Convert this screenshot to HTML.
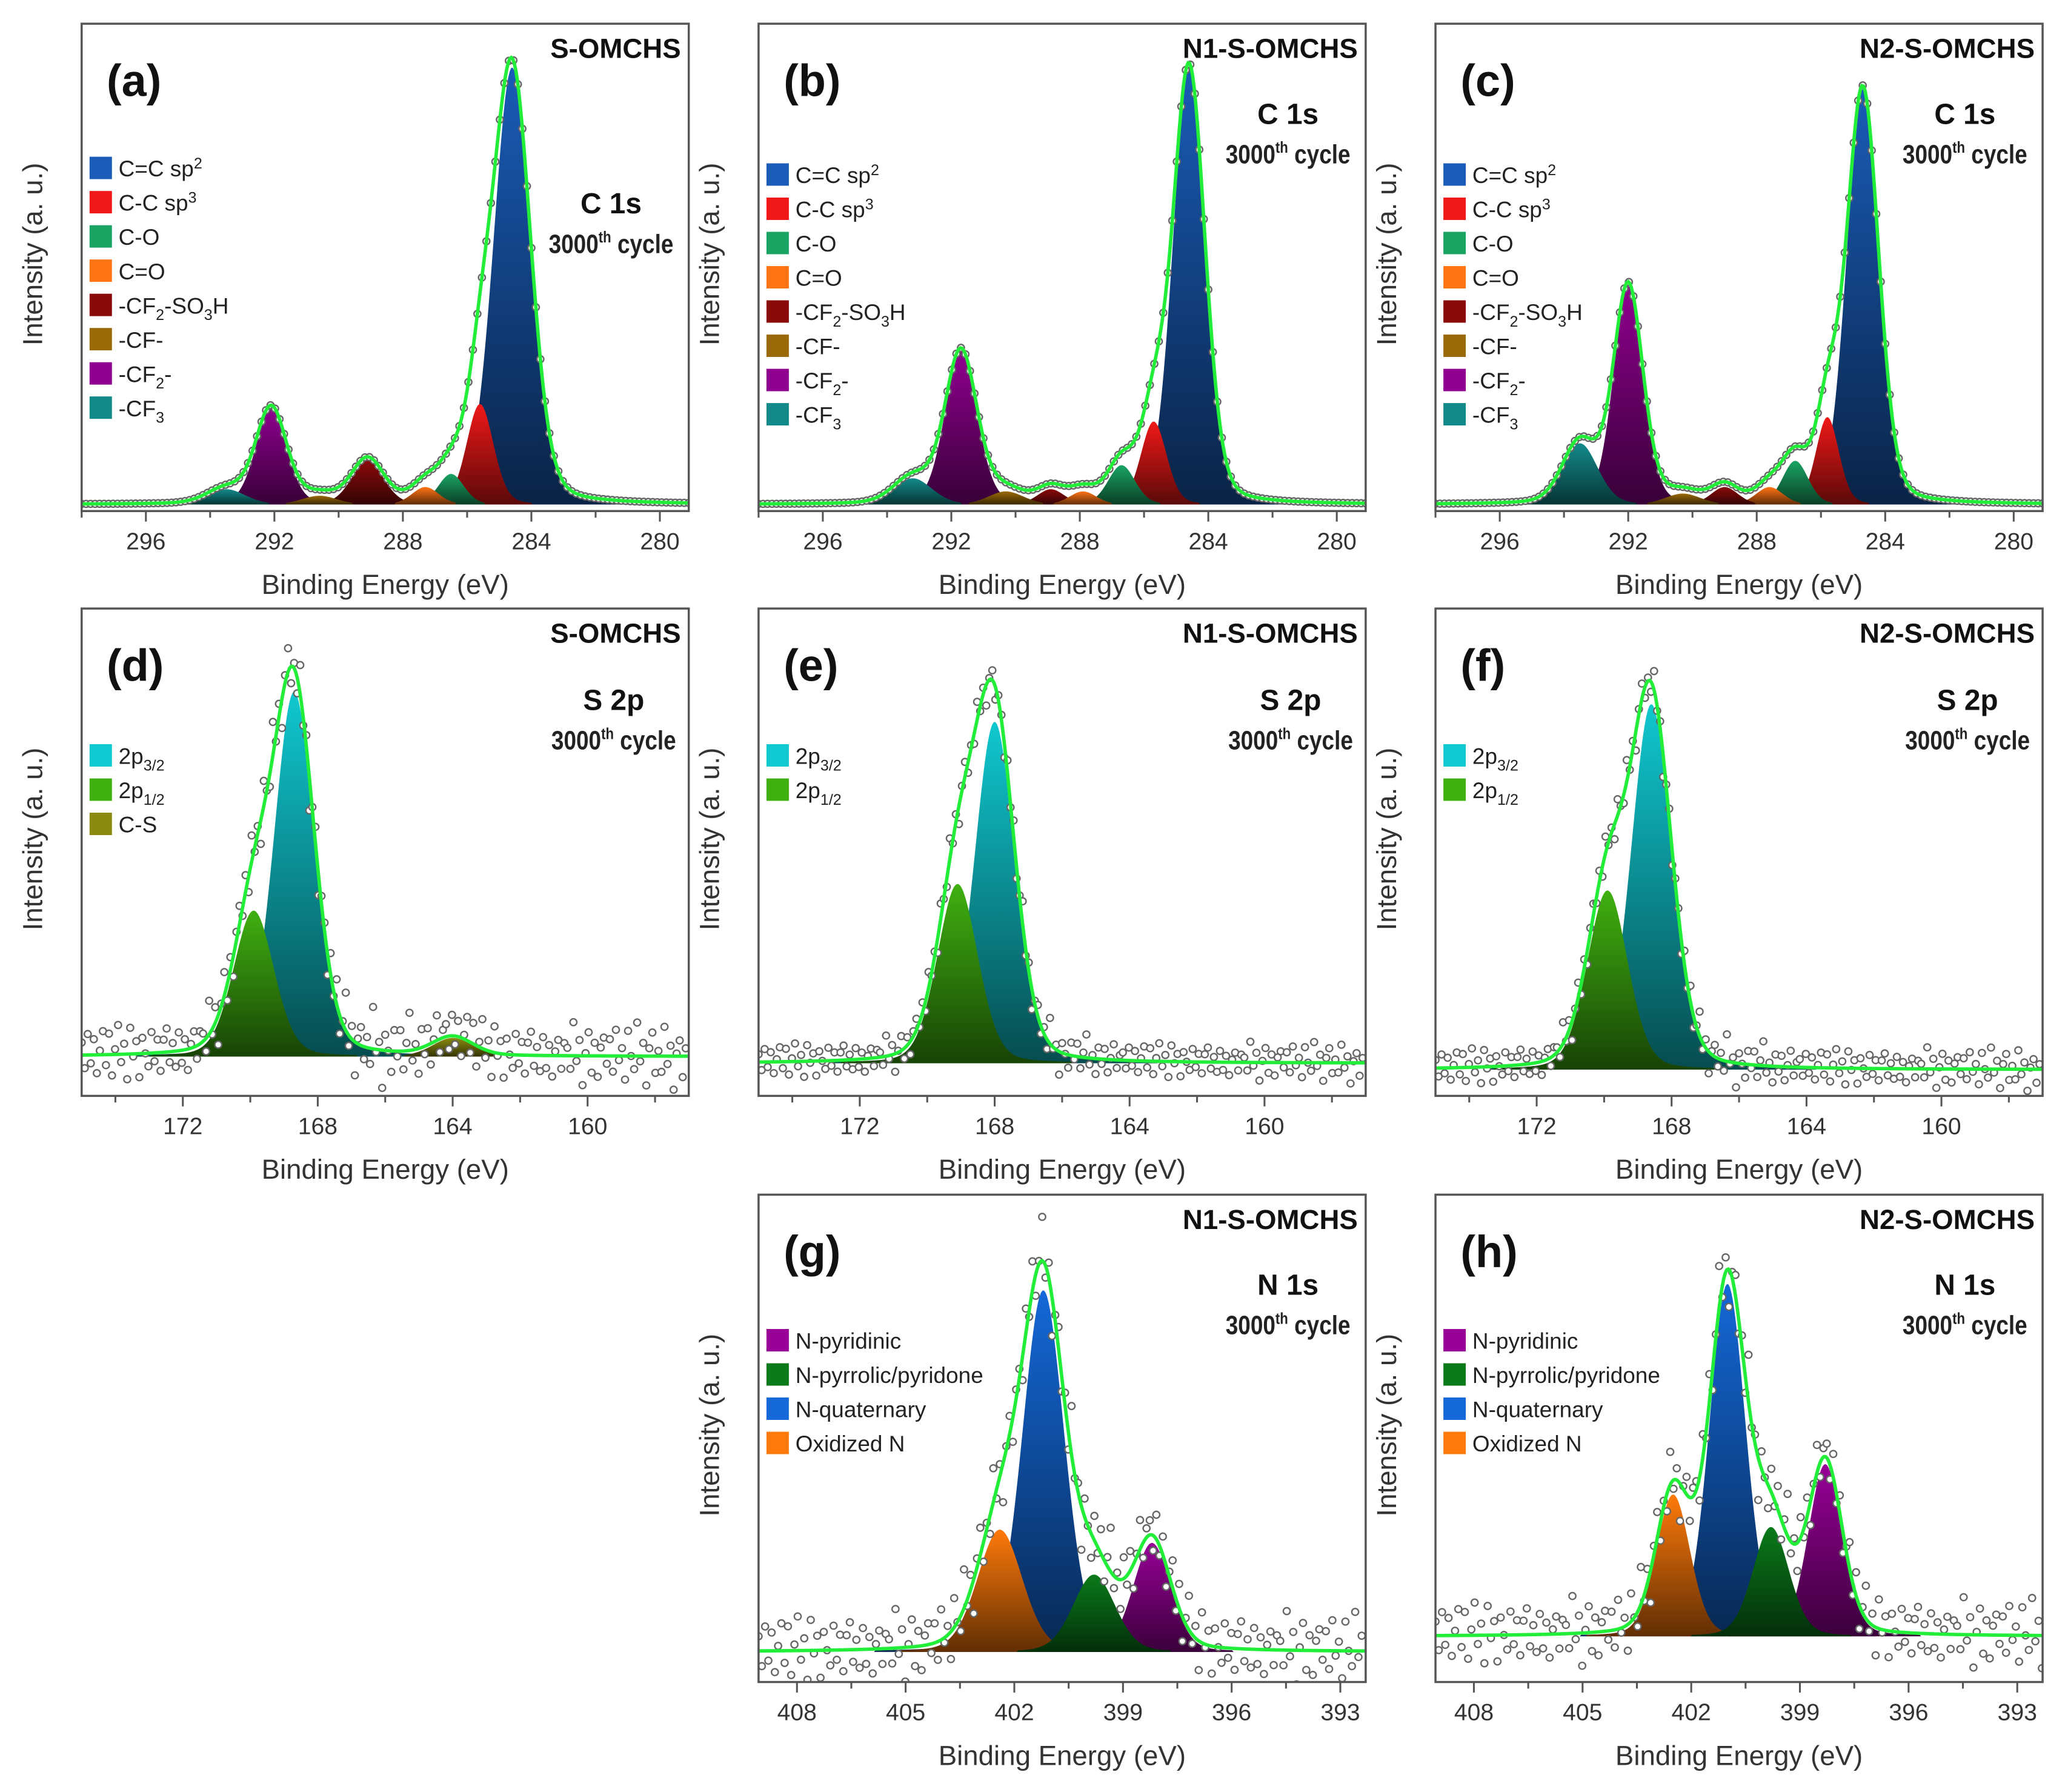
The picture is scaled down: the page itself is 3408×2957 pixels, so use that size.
<!DOCTYPE html>
<html><head><meta charset="utf-8">
<style>
html,body{margin:0;padding:0;background:#fff;}
svg{display:block;}
text{font-family:"Liberation Sans",sans-serif;}
</style></head>
<body>
<svg id="fig" xmlns="http://www.w3.org/2000/svg" width="3408" height="2957" viewBox="0 0 1568 1360.5" preserveAspectRatio="none">
<defs id="defs"></defs>
</svg>
<script>
// ---------- DATA ----------
const c1sLabels = ["C=C sp2","C-C sp3","C-O","C=O","-CF2-SO3H","-CF-","-CF2-","-CF3"];
const c1sColors = ["#1a5cb8","#f01818","#1aa464","#ff7414","#8a0a0a","#9a6a08","#900090","#138a8a"];
const c1sCenters_a = [284.6,285.6,286.5,287.3,289.1,290.6,292.1,293.5];
const c1sHeights_a = [1.00,0.23,0.07,0.04,0.10,0.02,0.22,0.035];
const c1sSigmas_a  = [0.58,0.42,0.4,0.42,0.5,0.55,0.48,0.6];
const c1sCenters_b = [284.6,285.7,286.7,287.9,288.9,290.3,291.7,293.2];
const c1sHeights_b = [1.00,0.19,0.09,0.03,0.035,0.03,0.35,0.06];
const c1sSigmas_b  = [0.5,0.4,0.42,0.42,0.42,0.55,0.5,0.6];
const c1sCenters_c = [284.7,285.8,286.8,287.6,289.0,290.3,292.0,293.5];
const c1sHeights_c = [0.95,0.20,0.10,0.04,0.04,0.025,0.50,0.14];
const c1sSigmas_c  = [0.5,0.36,0.4,0.42,0.42,0.55,0.46,0.55];

const s2pLabels = ["2p3/2","2p1/2","C-S"];
const s2pColors = ["#10c8d0","#40b010","#8a8a10"];
const s2pCenters_d = [168.7,169.9,164.0];
const s2pHeights_d = [0.975,0.39,0.05];
const s2pCenters_e = [168.0,169.1];
const s2pHeights_e = [0.952,0.50];
const s2pCenters_f = [168.6,169.9];
const s2pHeights_f = [0.975,0.478];
const s2pSigma = 0.6;

const n1sLabels = ["N-pyridinic","N-pyrrolic/pyridone","N-quaternary","Oxidized N"];
const n1sColors = ["#980098","#0a7a1a","#1468d8","#ff7a0a"];
const n1sCenters_g = [398.2,399.8,401.2,402.4];
const n1sHeights_g = [0.286,0.203,0.949,0.321];
const n1sSigmas_g  = [0.52,0.58,0.58,0.62];
const n1sCenters_h = [398.3,399.8,401.0,402.5];
const n1sHeights_h = [0.471,0.299,0.964,0.388];
const n1sSigmas_h  = [0.47,0.5,0.5,0.47];

const c1sTicks = [296,292,288,284,280];
const s2pTicks = [172,168,164,160];
const n1sTicks = [408,405,402,399,396,393];

// hand-read scatter offsets for noisy spectra
const noiseOffsets = [0.03,-0.05,0.08,-0.02,0.06,-0.07,0.01,0.09,-0.04,0.05,-0.08,0.02,0.07,-0.03,0.04,-0.06,0.1,-0.01,0.03,-0.09,0.06,0.0,-0.05,0.08,-0.02,0.05,-0.07,0.03,0.09,-0.04,0.02,-0.06,0.07,-0.03,0.04,-0.08,0.01,0.06,-0.05,0.03];

// ---------- DRAWING ----------
const NS="http://www.w3.org/2000/svg";
const svg=document.getElementById('fig');
const defs=document.getElementById('defs');
function el(tag,attrs,parent){const e=document.createElementNS(NS,tag);for(const k in attrs)e.setAttribute(k,attrs[k]);(parent||svg).appendChild(e);return e;}
function shape(x,c,h,s){const g=Math.exp(-0.5*((x-c)/s)**2);const l=1/(1+((x-c)/(1.18*s))**2);return h*(0.8*g+0.2*l);}
function darken(hex,f){const n=parseInt(hex.slice(1),16);const r=Math.round(((n>>16)&255)*f),g=Math.round(((n>>8)&255)*f),b=Math.round((n&255)*f);return 'rgb('+r+','+g+','+b+')';}
let gid=0;
function grad(color){
  const id='g'+(gid++);
  const g=el('linearGradient',{id:id,x1:0,y1:0,x2:0,y2:1},defs);
  el('stop',{offset:'0','stop-color':color},g);
  el('stop',{offset:'1','stop-color':darken(color,0.38)},g);
  return id;
}
function sub(parent,x,y,parts,size){
  const t=el('text',{x:x,y:y,'font-size':size,fill:'#222'},parent);
  parts.forEach(p=>{const ts=el('tspan',{},t);ts.textContent=p[0];
    ts.setAttribute('font-size',p[2]?size*0.68:size);
    if(p[1])ts.setAttribute('dy',p[1]);});
  return t;
}
function labelParts(l){
  const map={"C=C sp2":[["C=C sp"],["2",-6,1]],"C-C sp3":[["C-C sp"],["3",-6,1]],
    "-CF2-SO3H":[["-CF"],["2",5,1],["-SO",-5],["3",5,1],["H",-5]],"-CF2-":[["-CF"],["2",5,1],["-",-5]],
    "-CF3":[["-CF"],["3",5,1]],"2p3/2":[["2p"],["3/2",5,1]],"2p1/2":[["2p"],["1/2",5,1]]};
  return map[l]||[[l]];
}

function panel(cfg){
  const g=el('g',{});
  
  
  const X0=cfg.x,Y0=cfg.y,W=461,H=370;
  const xs=v=>X0+(cfg.xd[0]-v)/(cfg.xd[0]-cfg.xd[1])*W;
  const ys=v=>Y0+H-(v-cfg.yd[0])/(cfg.yd[1]-cfg.yd[0])*H;
  const clipId='clip'+cfg.letter;
  const cp=el('clipPath',{id:clipId},defs);el('rect',{x:X0,y:Y0,width:W,height:H},cp);
  const plot=el('g',{'clip-path':'url(#'+clipId+')'},g);
  
  
  const N=400;const xsArr=[];for(let i=0;i<=N;i++)xsArr.push(cfg.xd[0]-(cfg.xd[0]-cfg.xd[1])*i/N);
  const sig=i=>cfg.sigmas[i];
  const order=cfg.centers.map((c,i)=>i).sort((a,b)=>cfg.heights[b]-cfg.heights[a]);
  order.forEach(i=>{
    let d='M'+xs(xsArr[0])+','+ys(0);
    xsArr.forEach(x=>{const v=shape(x,cfg.centers[i],cfg.heights[i],sig(i));d+='L'+xs(x).toFixed(2)+','+ys(v>0.004?v:0).toFixed(2);});
    d+='L'+xs(xsArr[N])+','+ys(0)+'Z';
    const p=el('path',{d:d,fill:'url(#'+grad(cfg.colors[i])+')'},plot);
    
    
  });
  const env=x=>cfg.centers.reduce((s,c,i)=>s+shape(x,c,cfg.heights[i],sig(i)),0);
  const step=cfg.noise?0.09:0.14;
  let k=0;
  for(let x=cfg.xd[0];x>=cfg.xd[1];x-=step){
    const v=env(x)+(cfg.noise?noiseOffsets[k%noiseOffsets.length]*cfg.noise*(k%3===0?1.6:1):0);
    const c=el('circle',{cx:xs(x).toFixed(2),cy:ys(v).toFixed(2),r:2.6,fill:'#fff',stroke:'#666','stroke-width':1.1},plot);
    
    
    k++;
  }
  let d='';xsArr.forEach((x,i)=>{d+=(i?'L':'M')+xs(x).toFixed(2)+','+ys(env(x)).toFixed(2);});
  const ln=el('path',{d:d,fill:'none',stroke:'#22ee3a','stroke-width':2.6},plot);
  
  
  const fr=el('rect',{x:X0,y:Y0,width:W,height:H,fill:'none',stroke:'#555','stroke-width':1.6},g);
  
  
  const xa=el('g',{},g);
  
  
  const minor=cfg.minor;
  for(let v=Math.ceil(cfg.xd[1]/minor)*minor;v<=cfg.xd[0];v+=minor){
    const isMaj=cfg.ticks.some(t=>Math.abs(t-v)<1e-6);
    el('line',{x1:xs(v),x2:xs(v),y1:Y0+H,y2:Y0+H+(isMaj?8:5),stroke:'#555','stroke-width':1.4},xa);
  }
  cfg.ticks.forEach(t=>{const tx=el('text',{x:xs(t),y:Y0+H+29,'font-size':18,'text-anchor':'middle',fill:'#333'},xa);tx.textContent=t;
    });
  const xt=el('text',{x:X0+W/2,y:Y0+H+63,'font-size':21,'text-anchor':'middle',fill:'#333'},g);xt.textContent='Binding Energy (eV)';
  
  const yt=el('text',{x:0,y:0,'font-size':21,'text-anchor':'middle',fill:'#333',transform:'translate('+(X0-30)+','+(Y0+H/2-10)+') rotate(-90)'},g);yt.textContent='Intensity (a. u.)';
  
  const st=el('text',{x:X0+W-6,y:Y0+26,'font-size':21,'font-weight':'bold','text-anchor':'end',fill:'#111'},g);st.textContent=cfg.sample;
  
  const lt=el('text',{x:X0+19,y:Y0+55,'font-size':34,'font-weight':'bold',fill:'#111'},g);lt.textContent='('+cfg.letter+')';
  
  const rt=el('text',{x:cfg.rx,y:cfg.ry+7,'font-size':22,'font-weight':'bold','text-anchor':'middle',fill:'#111'},g);rt.textContent=cfg.region;
  
  const cy=el('text',{x:cfg.rx,y:cfg.ry+37,'font-size':20,'font-weight':'bold','text-anchor':'middle',fill:'#222',transform:'translate('+cfg.rx+',0) scale(0.85,1) translate('+(-cfg.rx)+',0)'},g);
  let ts=el('tspan',{},cy);ts.textContent='3000';ts=el('tspan',{'font-size':12,dy:-8},cy);ts.textContent='th';ts=el('tspan',{dy:8},cy);ts.textContent=' cycle';
  
  const lg=el('g',{},g);
  
  
  cfg.labels.forEach((l,i)=>{
    const yy=cfg.ly+i*26;
    const sq=el('rect',{x:X0+6,y:yy-9,width:17,height:17,fill:cfg.colors[i]},lg);
    
    const t=sub(lg,X0+28,yy+6,labelParts(l),17);
    
  });
}

const colsX=[62,576,1090];
const samples=["S-OMCHS","N1-S-OMCHS","N2-S-OMCHS"];
const c1sSets=[[c1sCenters_a,c1sHeights_a,c1sSigmas_a],[c1sCenters_b,c1sHeights_b,c1sSigmas_b],[c1sCenters_c,c1sHeights_c,c1sSigmas_c]];
const ryC=[155,87,87];const lyC=[128,133,133];
['a','b','c'].forEach((L,i)=>panel({name:'panel-'+L+'-c1s',letter:L,x:colsX[i],y:18,xd:[298,279.1],yd:[-0.015,1.1],
  centers:c1sSets[i][0],heights:c1sSets[i][1],sigmas:c1sSets[i][2],colors:c1sColors,labels:c1sLabels,ticks:c1sTicks,minor:2,
  sample:samples[i],region:'C 1s',rx:colsX[i]+402,ry:ryC[i],ly:lyC[i]}));
const s2pSets=[[s2pCenters_d,s2pHeights_d,[-0.105,1.197]],[s2pCenters_e,s2pHeights_e,[-0.091,1.268]],[s2pCenters_f,s2pHeights_f,[-0.07,1.23]]];
const s2pNoise=[0.7,0.45,0.45];
['d','e','f'].forEach((L,i)=>panel({name:'panel-'+L+'-s2p',letter:L,x:colsX[i],y:462,xd:[175,157],yd:s2pSets[i][2],
  centers:s2pSets[i][0],heights:s2pSets[i][1],sigmas:s2pSets[i][0].map(()=>s2pSigma),colors:s2pColors.slice(0,s2pSets[i][0].length),
  labels:s2pLabels.slice(0,s2pSets[i][0].length),ticks:s2pTicks,minor:2,noise:s2pNoise[i],
  sample:samples[i],region:'S 2p',rx:colsX[i]+404,ry:532,ly:574}));
const n1sSets=[[n1sCenters_g,n1sHeights_g,n1sSigmas_g,[-0.079,1.2]],[n1sCenters_h,n1sHeights_h,n1sSigmas_h,[-0.125,1.208]]];
['g','h'].forEach((L,i)=>panel({name:'panel-'+L+'-n1s',letter:L,x:colsX[i+1],y:907,xd:[409.06,392.3],yd:n1sSets[i][3],
  centers:n1sSets[i][0],heights:n1sSets[i][1],sigmas:n1sSets[i][2],colors:n1sColors,labels:n1sLabels,ticks:n1sTicks,minor:1.5,noise:0.8,
  sample:samples[i+1],region:'N 1s',rx:colsX[i+1]+402,ry:976,ly:1018}));
</script>
</body></html>
